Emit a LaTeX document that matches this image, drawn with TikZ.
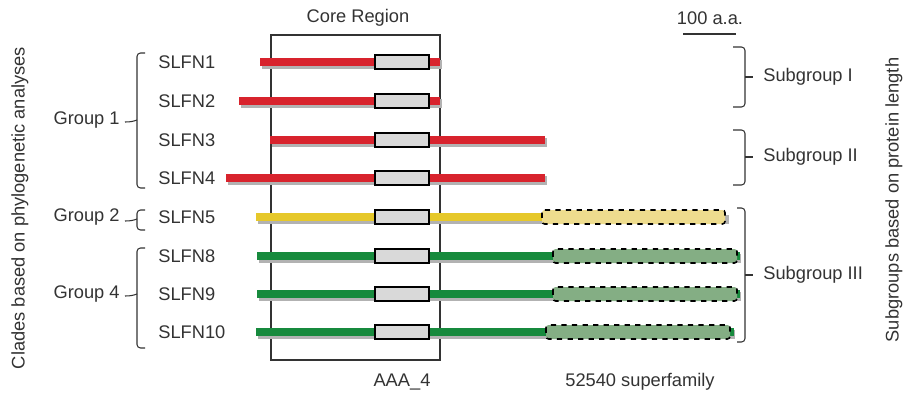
\documentclass[tikz,border=0pt]{standalone}
\usepackage{fontspec}
\setmainfont{Liberation Sans}
\begin{document}
\begin{tikzpicture}[x=0.02cm,y=-0.02cm,
  lbl/.style={font=\fontsize{10.4}{12}\selectfont, text=black!80, inner sep=0pt},
  shadowbar/.style={fill=black!30, draw=none},
  aaabox/.style={fill=black!15, draw=black, line width=0.9pt},
  supbox/.style={draw=black, dashed, line width=0.9pt, rounded corners=1.5pt},
  brk/.style={draw=black!80, line width=0.6pt, rounded corners=2pt}]
\definecolor{cred}{HTML}{D8232D}
\definecolor{cyel}{HTML}{E6C82A}
\definecolor{cgrn}{HTML}{178A3D}
\definecolor{cyelL}{HTML}{EEDC8E}
\definecolor{cgrnL}{HTML}{84AE84}
\useasboundingbox (0,0) rectangle (903,395);
\fill[white] (0,0) rectangle (903,395);

% core region box
\draw[black!80, line width=0.6pt] (271,35) rectangle (440,360);
\node[lbl] (core) at (358,18) {Core Region};

% scale bar
\node[lbl] (scale) at (710,18) {100 a.a.};
\coordinate (sbL) at (683,34);
\coordinate (sbR) at (736,34);
\draw[black!80, line width=0.6pt] (sbL) -- (sbR);

% --- bars ---
% SLFN1
\fill[shadowbar] (262,60) rectangle (442,69);
\fill[cred] (260,58) rectangle (440,66);
\draw[aaabox] (375,55) rectangle (429,69);
% SLFN2
\fill[shadowbar] (241,99) rectangle (442,108);
\fill[cred] (239,97) rectangle (440,105);
\draw[aaabox] (375,94) rectangle (429,108);
% SLFN3
\fill[shadowbar] (272,138) rectangle (547,147);
\fill[cred] (270,136) rectangle (545,144);
\draw[aaabox] (375,133) rectangle (429,147);
% SLFN4
\fill[shadowbar] (228,176) rectangle (547,185);
\fill[cred] (226,174) rectangle (545,182);
\draw[aaabox] (375,171) rectangle (429,185);
% SLFN5
\fill[shadowbar] (258,215) rectangle (729,224);
\fill[cyel] (256,213) rectangle (545,221);
\draw[aaabox] (375,210) rectangle (429,224);
\draw[supbox, fill=cyelL] (542,210) rectangle (725,224);
% SLFN8
\fill[shadowbar] (259,254) rectangle (741,263);
\fill[cgrn] (257,252) rectangle (740,260);
\draw[aaabox] (375,249) rectangle (429,263);
\draw[supbox, fill=cgrnL] (553,249) rectangle (737,263);
% SLFN9
\fill[shadowbar] (259,292) rectangle (741,301);
\fill[cgrn] (257,290) rectangle (740,298);
\draw[aaabox] (375,287) rectangle (429,301);
\draw[supbox, fill=cgrnL] (553,287) rectangle (737,301);
% SLFN10
\fill[shadowbar] (258,330) rectangle (735,339);
\fill[cgrn] (256,328) rectangle (734,336);
\draw[aaabox] (375,325) rectangle (429,339);
\draw[supbox, fill=cgrnL] (546,325) rectangle (730,339);

% --- names ---
\node[lbl, anchor=west] (s1) at (158,62) {SLFN1};
\node[lbl, anchor=west] (s2) at (158,101) {SLFN2};
\node[lbl, anchor=west] (s3) at (158,140) {SLFN3};
\node[lbl, anchor=west] (s4) at (158,178) {SLFN4};
\node[lbl, anchor=west] (s5) at (158,217) {SLFN5};
\node[lbl, anchor=west] (s8) at (158,256) {SLFN8};
\node[lbl, anchor=west] (s9) at (158,294) {SLFN9};
\node[lbl, anchor=west] (s10) at (158,332) {SLFN10};

% --- left brackets ---
\draw[brk] (145,53) -- (137,53) -- (137,120) -- (137,188) -- (145,188);
\draw[black!80, line width=0.6pt] (137,120) to[out=-160,in=0] (125,122);
\node[lbl, anchor=east] (g1) at (120,120) {Group 1};

\draw[brk] (145,210) -- (137,210) -- (137,230) -- (145,230);
\draw[black!80, line width=0.6pt] (137,219) to[out=-160,in=0] (125,221);
\node[lbl, anchor=east] (g2) at (120,217) {Group 2};

\draw[brk] (145,248) -- (137,248) -- (137,348) -- (145,348);
\draw[black!80, line width=0.6pt] (137,294) to[out=-160,in=0] (125,296);
\node[lbl, anchor=east] (g4) at (120,294) {Group 4};

\node[lbl, rotate=90] (clades) at (20,208) {Clades based on phylogenetic analyses};

% --- right brackets ---
\draw[brk] (733,47) -- (745,47) -- (745,107) -- (733,107);
\draw[black!80, line width=0.6pt] (745,77) -- (753,77);
\node[lbl, anchor=west] (sg1) at (763,77) {Subgroup I};

\draw[brk] (733,130) -- (745,130) -- (745,185) -- (733,185);
\draw[black!80, line width=0.6pt] (745,157) -- (753,157);
\node[lbl, anchor=west] (sg2) at (763,157) {Subgroup II};

\draw[brk] (737,208) -- (745,208) -- (745,342) -- (737,342);
\draw[black!80, line width=0.6pt] (745,275) -- (753,275);
\node[lbl, anchor=west] (sg3) at (763,275) {Subgroup III};

\node[lbl, rotate=90] (subg) at (894,200) {Subgroups based on protein length};

% bottom labels
\node[lbl] (aaa) at (402,382) {AAA\_4};
\node[lbl] (sup) at (640,382) {52540 superfamily};
\end{tikzpicture}
\end{document}
